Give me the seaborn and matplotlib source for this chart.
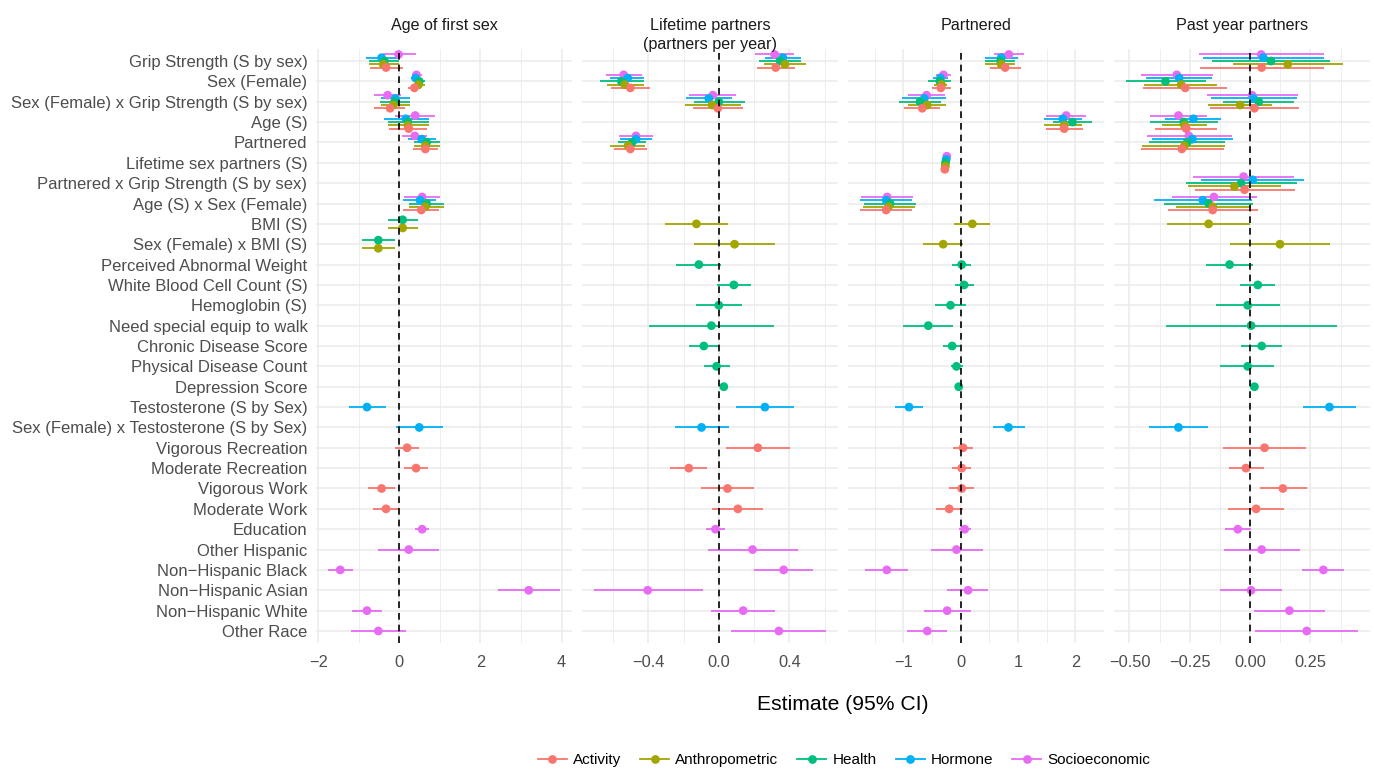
import numpy as np
import pandas as pd
import matplotlib
matplotlib.use("Agg")
import matplotlib.pyplot as plt
from matplotlib.lines import Line2D
import seaborn as sns

# ---------------- data ----------------
terms = [
    "Grip Strength (S by sex)", "Sex (Female)", "Sex (Female) x Grip Strength (S by sex)",
    "Age (S)", "Partnered", "Lifetime sex partners (S)", "Partnered x Grip Strength (S by sex)",
    "Age (S) x Sex (Female)", "BMI (S)", "Sex (Female) x BMI (S)", "Perceived Abnormal Weight",
    "White Blood Cell Count (S)", "Hemoglobin (S)", "Need special equip to walk",
    "Chronic Disease Score", "Physical Disease Count", "Depression Score",
    "Testosterone (S by Sex)", "Sex (Female) x Testosterone (S by Sex)", "Vigorous Recreation",
    "Moderate Recreation", "Vigorous Work", "Moderate Work", "Education", "Other Hispanic",
    "Non\u2212Hispanic Black", "Non\u2212Hispanic Asian", "Non\u2212Hispanic White", "Other Race",
]
groups = ["Activity", "Anthropometric", "Health", "Hormone", "Socioeconomic"]
palette = ["#F8766D", "#A3A500", "#00BF7D", "#00B0F6", "#E76BF3"]
outcomes = ["Age of first sex", "Lifetime partners\n(partners per year)", "Partnered", "Past year partners"]

# model codes: S=Socioeconomic, R=Hormone, H=Health, N=Anthropometric, A=Activity
code = {"S": "Socioeconomic", "R": "Hormone", "H": "Health", "N": "Anthropometric", "A": "Activity"}

# (term index, model, estimate, lower, upper)
age_first_sex = [
    (0, "S", -0.02, -0.41, 0.40), (0, "R", -0.44, -0.82, 0.00), (0, "H", -0.37, -0.76, 0.00),
    (0, "N", -0.40, -0.76, 0.00), (0, "A", -0.33, -0.72, 0.08),
    (1, "S", 0.42, 0.31, 0.56), (1, "R", 0.40, 0.28, 0.52), (1, "H", 0.49, 0.35, 0.62),
    (1, "N", 0.47, 0.33, 0.64), (1, "A", 0.37, 0.21, 0.53),
    (2, "S", -0.29, -0.62, 0.04), (2, "R", -0.10, -0.45, 0.26), (2, "H", -0.12, -0.48, 0.25),
    (2, "N", -0.15, -0.45, 0.25), (2, "A", -0.23, -0.62, 0.15),
    (3, "S", 0.39, -0.10, 0.88), (3, "R", 0.16, -0.39, 0.72), (3, "H", 0.21, -0.29, 0.74),
    (3, "N", 0.21, -0.29, 0.74), (3, "A", 0.23, -0.26, 0.67),
    (4, "S", 0.38, 0.07, 0.68), (4, "R", 0.55, 0.21, 0.91), (4, "H", 0.67, 0.37, 0.99),
    (4, "N", 0.64, 0.37, 0.99), (4, "A", 0.64, 0.33, 0.95),
    (7, "S", 0.56, 0.12, 0.99), (7, "R", 0.51, 0.10, 0.91), (7, "H", 0.67, 0.23, 1.11),
    (7, "N", 0.64, 0.23, 1.11), (7, "A", 0.54, 0.10, 0.97),
    (8, "H", 0.08, -0.29, 0.45), (8, "N", 0.08, -0.29, 0.45),
    (9, "H", -0.52, -0.93, -0.10), (9, "N", -0.52, -0.93, -0.10),
    (17, "R", -0.80, -1.25, -0.33), (18, "R", 0.49, -0.08, 1.07),
    (19, "A", 0.19, -0.10, 0.49), (20, "A", 0.41, 0.12, 0.70),
    (21, "A", -0.44, -0.77, -0.11), (22, "A", -0.33, -0.66, -0.02),
    (23, "S", 0.56, 0.39, 0.74), (24, "S", 0.23, -0.52, 0.97), (25, "S", -1.46, -1.77, -1.14),
    (26, "S", 3.19, 2.44, 3.97), (27, "S", -0.80, -1.17, -0.44), (28, "S", -0.52, -1.19, 0.16),
]
lifetime_partners = [
    (0, "S", 0.316, 0.204, 0.426), (0, "R", 0.363, 0.261, 0.463), (0, "H", 0.346, 0.227, 0.463),
    (0, "N", 0.374, 0.255, 0.492), (0, "A", 0.322, 0.214, 0.431),
    (1, "S", -0.539, -0.639, -0.435), (1, "R", -0.516, -0.614, -0.422), (1, "H", -0.552, -0.675, -0.422),
    (1, "N", -0.533, -0.631, -0.422), (1, "A", -0.501, -0.611, -0.388),
    (2, "S", -0.034, -0.170, 0.100), (2, "R", -0.057, -0.185, 0.072), (2, "H", 0.000, -0.138, 0.151),
    (2, "N", -0.038, -0.189, 0.123), (2, "A", -0.006, -0.148, 0.136),
    (4, "S", -0.469, -0.567, -0.374), (4, "R", -0.469, -0.561, -0.378), (4, "H", -0.492, -0.573, -0.410),
    (4, "N", -0.514, -0.614, -0.420), (4, "A", -0.501, -0.596, -0.407),
    (8, "N", -0.127, -0.306, 0.053), (9, "N", 0.089, -0.138, 0.316),
    (10, "H", -0.113, -0.242, 0.015), (11, "H", 0.085, -0.009, 0.180), (12, "H", 0.000, -0.129, 0.129),
    (13, "H", -0.042, -0.397, 0.310), (14, "H", -0.085, -0.170, 0.000), (15, "H", -0.013, -0.083, 0.064),
    (16, "H", 0.028, 0.015, 0.040),
    (17, "R", 0.261, 0.100, 0.426), (18, "R", -0.098, -0.250, 0.057),
    (19, "A", 0.221, 0.042, 0.401), (20, "A", -0.170, -0.278, -0.066),
    (21, "A", 0.049, -0.100, 0.197), (22, "A", 0.108, -0.038, 0.250),
    (23, "S", -0.019, -0.072, 0.034), (24, "S", 0.191, -0.064, 0.448), (25, "S", 0.367, 0.199, 0.533),
    (26, "S", -0.403, -0.709, -0.091), (27, "S", 0.138, -0.042, 0.318), (28, "S", 0.340, 0.068, 0.609),
]
partnered = [
    (0, "S", 0.841, 0.575, 1.113), (0, "R", 0.708, 0.419, 0.997), (0, "H", 0.697, 0.419, 0.945),
    (0, "N", 0.708, 0.419, 0.945), (0, "A", 0.777, 0.506, 1.054),
    (1, "S", -0.298, -0.437, -0.170), (1, "R", -0.350, -0.477, -0.217), (1, "H", -0.361, -0.576, -0.170),
    (1, "N", -0.333, -0.460, -0.230), (1, "A", -0.344, -0.506, -0.170),
    (2, "S", -0.593, -0.910, -0.275), (2, "R", -0.633, -1.014, -0.257), (2, "H", -0.708, -1.066, -0.333),
    (2, "N", -0.581, -0.910, -0.257), (2, "A", -0.668, -0.980, -0.361),
    (3, "S", 1.841, 1.488, 2.193), (3, "R", 1.783, 1.448, 2.112), (3, "H", 1.951, 1.616, 2.286),
    (3, "N", 1.806, 1.460, 2.120), (3, "A", 1.806, 1.488, 2.141),
    (5, "S", -0.240, -0.270, -0.210), (5, "R", -0.251, -0.280, -0.220), (5, "H", -0.263, -0.290, -0.230),
    (5, "N", -0.265, -0.295, -0.235), (5, "A", -0.274, -0.300, -0.245),
    (7, "S", -1.280, -1.731, -0.824), (7, "R", -1.297, -1.760, -0.840), (7, "H", -1.228, -1.690, -0.780),
    (7, "N", -1.257, -1.700, -0.800), (7, "A", -1.297, -1.760, -0.840),
    (8, "N", 0.205, -0.113, 0.517), (9, "N", -0.303, -0.650, 0.043),
    (10, "H", 0.020, -0.147, 0.188), (11, "H", 0.061, -0.101, 0.234), (12, "H", -0.176, -0.448, 0.090),
    (13, "H", -0.563, -0.997, -0.130), (14, "H", -0.147, -0.300, -0.009), (15, "H", -0.072, -0.160, 0.050),
    (16, "H", -0.032, -0.070, 0.010),
    (17, "R", -0.899, -1.140, -0.650), (18, "R", 0.835, 0.564, 1.131),
    (19, "A", 0.043, -0.130, 0.217), (20, "A", 0.020, -0.147, 0.188),
    (21, "A", 0.020, -0.199, 0.234), (22, "A", -0.199, -0.437, 0.043),
    (23, "S", 0.072, -0.030, 0.176), (24, "S", -0.072, -0.523, 0.390), (25, "S", -1.286, -1.660, -0.922),
    (26, "S", 0.130, -0.228, 0.477), (27, "S", -0.234, -0.638, 0.176), (28, "S", -0.581, -0.939, -0.228),
]
past_year_partners = [
    (0, "S", 0.046, -0.213, 0.305), (0, "R", 0.055, -0.196, 0.308), (0, "H", 0.087, -0.159, 0.333),
    (0, "N", 0.156, -0.072, 0.387), (0, "A", 0.048, -0.209, 0.308),
    (1, "S", -0.304, -0.454, -0.152), (1, "R", -0.294, -0.431, -0.159), (1, "H", -0.351, -0.516, -0.182),
    (1, "N", -0.286, -0.438, -0.138), (1, "A", -0.269, -0.442, -0.097),
    (2, "S", 0.008, -0.178, 0.198), (2, "R", 0.014, -0.164, 0.194), (2, "H", 0.036, -0.113, 0.184),
    (2, "N", -0.041, -0.175, 0.091), (2, "A", 0.018, -0.167, 0.201),
    (3, "S", -0.297, -0.414, -0.178), (3, "R", -0.235, -0.351, -0.120), (3, "H", -0.275, -0.414, -0.134),
    (3, "N", -0.272, -0.366, -0.178), (3, "A", -0.265, -0.394, -0.137),
    (4, "S", -0.254, -0.428, -0.076), (4, "R", -0.239, -0.407, -0.069), (4, "H", -0.261, -0.420, -0.102),
    (4, "N", -0.272, -0.450, -0.102), (4, "A", -0.283, -0.454, -0.110),
    (6, "S", -0.027, -0.237, 0.184), (6, "R", 0.011, -0.203, 0.223), (6, "H", -0.037, -0.265, 0.194),
    (6, "N", -0.065, -0.258, 0.129), (6, "A", -0.023, -0.230, 0.186),
    (7, "S", -0.150, -0.324, 0.028), (7, "R", -0.196, -0.399, 0.007), (7, "H", -0.172, -0.358, 0.014),
    (7, "N", -0.155, -0.309, 0.004), (7, "A", -0.155, -0.341, 0.032),
    (8, "N", -0.172, -0.345, 0.000), (9, "N", 0.124, -0.083, 0.333),
    (10, "H", -0.085, -0.182, 0.014), (11, "H", 0.032, -0.041, 0.105), (12, "H", -0.010, -0.141, 0.122),
    (13, "H", 0.004, -0.348, 0.359), (14, "H", 0.048, -0.037, 0.133), (15, "H", -0.010, -0.123, 0.101),
    (16, "H", 0.018, 0.008, 0.028),
    (17, "R", 0.329, 0.221, 0.439), (18, "R", -0.297, -0.420, -0.175),
    (19, "A", 0.060, -0.113, 0.230), (20, "A", -0.017, -0.088, 0.056),
    (21, "A", 0.136, 0.040, 0.235), (22, "A", 0.025, -0.092, 0.142),
    (23, "S", -0.051, -0.106, 0.004), (24, "S", 0.048, -0.109, 0.205), (25, "S", 0.304, 0.214, 0.391),
    (26, "S", 0.004, -0.124, 0.133), (27, "S", 0.163, 0.015, 0.312), (28, "S", 0.235, 0.022, 0.449),
]
panel_data = [age_first_sex, lifetime_partners, partnered, past_year_partners]

major_ticks = [[-2, 0, 2, 4], [-0.4, 0.0, 0.4], [-1, 0, 1, 2], [-0.5, -0.25, 0.0, 0.25]]
major_labels = [["\u22122", "0", "2", "4"], ["\u22120.4", "0.0", "0.4"],
                ["\u22121", "0", "1", "2"], ["\u22120.50", "\u22120.25", "0.00", "0.25"]]
minor_ticks = [[-1, 1, 3], [-0.6, -0.2, 0.2, 0.6], [-1.5, -0.5, 0.5, 1.5, 2.5],
               [-0.375, -0.125, 0.125, 0.375]]

# ---------------- tidy frame with dodge positions ----------------
stack_order = ["Socioeconomic", "Hormone", "Health", "Anthropometric", "Activity"]  # top -> bottom
rows = []
for o, recs in zip(outcomes, panel_data):
    for t, m, e, lo, hi in recs:
        rows.append(dict(outcome=o, term=t, group=code[m], est=e, lo=lo, hi=hi))
df = pd.DataFrame(rows)
df["rank"] = df["group"].map({g: i for i, g in enumerate(stack_order)})
df = df.sort_values(["outcome", "term", "rank"]).reset_index(drop=True)
dodge_w = 0.8
df["k"] = df.groupby(["outcome", "term"]).cumcount()
df["n"] = df.groupby(["outcome", "term"])["group"].transform("count")
df["y"] = df["term"] + (df["k"] - (df["n"] - 1) / 2) * dodge_w / df["n"]
color_of = dict(zip(groups, palette))

# ---------------- figure ----------------
plt.rcParams["font.family"] = ["Liberation Sans", "DejaVu Sans"]
W, H = 1375, 770
fig = plt.figure(figsize=(W / 100, H / 100), dpi=100)

panel_left = [316, 582, 848, 1114]
panel_w = 256
panel_top, panel_bot = 48.8, 643.2
grid_c = "#EBEBEB"

for i, (o, x0) in enumerate(zip(outcomes, panel_left)):
    ax = fig.add_axes([x0 / W, 1 - panel_bot / H, panel_w / W, (panel_bot - panel_top) / H])
    sub = df[df["outcome"] == o]
    for g in stack_order[::-1]:
        s = sub[sub["group"] == g]
        if len(s) == 0:
            continue
        ax.hlines(s["y"], s["lo"], s["hi"], colors=color_of[g], lw=1.3, zorder=3)
    sns.scatterplot(data=sub, x="est", y="y", hue="group", hue_order=groups, palette=palette,
                    s=40, linewidth=0, ax=ax, legend=False, zorder=4)
    ax.axvline(0, color="black", lw=1.2, ls=(0, (4, 3)), zorder=5)

    lo_all, hi_all = sub["lo"].min(), sub["hi"].max()
    span = hi_all - lo_all
    ax.set_xlim(lo_all - 0.05 * span, hi_all + 0.05 * span)
    ax.set_ylim(len(terms) - 0.4, -0.6)

    ax.set_xticks(major_ticks[i], major_labels[i])
    ax.set_xticks(minor_ticks[i], minor=True)
    ax.set_yticks(range(len(terms)))
    if i == 0:
        ax.set_yticklabels(terms)
    else:
        ax.set_yticklabels([])
    ax.set_xlabel("")
    ax.set_ylabel("")
    ax.grid(which="major", color=grid_c, lw=1.1, zorder=0)
    ax.grid(which="minor", axis="x", color=grid_c, lw=0.6, zorder=0)
    ax.set_axisbelow(True)
    for sp in ax.spines.values():
        sp.set_visible(False)
    ax.tick_params(which="both", length=0)
    ax.tick_params(axis="x", pad=8.5, labelsize=11.8, labelcolor="#4D4D4D")
    ax.tick_params(axis="y", pad=6.2, labelsize=12, labelcolor="#4D4D4D")
    ax.set_facecolor("white")

    fig.text((x0 + panel_w / 2) / W, 1 - 18 / H, o, ha="center", va="top",
             fontsize=11.6, color="#1A1A1A", linespacing=1.3)

fig.text(843 / W, 1 - 705 / H, "Estimate (95% CI)", ha="center", va="center", fontsize=15.2)

handles = [Line2D([0], [0], color=c, marker="o", markersize=6.3, lw=1.3, markeredgewidth=0)
           for c in palette]
fig.legend(handles, groups, loc="center", bbox_to_anchor=(844 / W, 1 - 760 / H), ncol=5,
           frameon=False, fontsize=11, handlelength=1.9, handletextpad=0.4, columnspacing=1.25)

fig.savefig("out.png", dpi=100, facecolor="white")
